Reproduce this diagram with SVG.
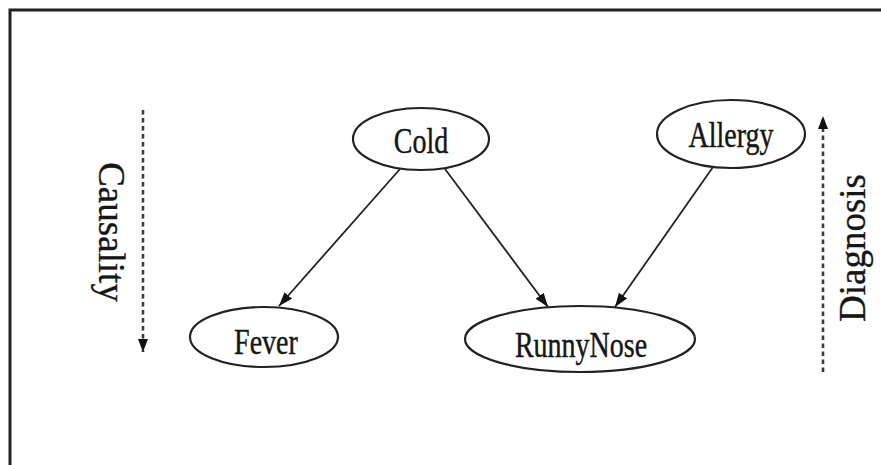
<svg xmlns="http://www.w3.org/2000/svg" width="881" height="465" viewBox="0 0 881 465">
  <defs>
    <style>
      .frame { fill: none; stroke: #222; stroke-width: 3; }
      .node ellipse { fill: #fff; stroke: #222; stroke-width: 2.2; }
      .node text, .label { font-family: "Liberation Serif", "Times New Roman", serif; fill: #161616; stroke: #161616; stroke-width: 0.35; text-anchor: middle; }
      .node text { font-size: 28px; }
      .label { font-size: 37px; }
      .edge { stroke: #222; stroke-width: 1.8; fill: none; }
      .flow { stroke: #3a3a3a; stroke-width: 2.6; stroke-dasharray: 4.5 3.5; fill: none; }
    </style>
    <marker id="arrow" markerUnits="userSpaceOnUse" markerWidth="15" markerHeight="11" refX="14" refY="5.5" orient="auto">
      <path d="M0,0.5 L14,5.5 L0,10.5 z" fill="#111"/>
    </marker>
    <marker id="arrowSmall" markerUnits="userSpaceOnUse" markerWidth="14" markerHeight="11" refX="13" refY="5.5" orient="auto">
      <path d="M0,0.5 L13,5.5 L0,10.5 z" fill="#111"/>
    </marker>
  </defs>

  <rect width="881" height="465" fill="#fff"/>
  <!-- outer frame (open on right and bottom) -->
  <path class="frame" d="M10,465 L10,10 L881,10"/>

  <!-- direction labels -->
  <g id="causality">
    <line class="flow" x1="143" y1="110" x2="143" y2="352" marker-end="url(#arrowSmall)"/>
    <text class="label" transform="translate(99,232) rotate(90)">Causality</text>
  </g>
  <g id="diagnosis">
    <line class="flow" x1="823" y1="372" x2="823" y2="116" marker-end="url(#arrowSmall)"/>
    <text class="label" transform="translate(865,248) rotate(-90)">Diagnosis</text>
  </g>

  <!-- connectors -->
  <g id="edges">
    <line class="edge" x1="400" y1="169" x2="279" y2="306" marker-end="url(#arrow)"/>
    <line class="edge" x1="445" y1="169" x2="548" y2="307" marker-end="url(#arrow)"/>
    <line class="edge" x1="713" y1="167" x2="615" y2="307" marker-end="url(#arrow)"/>
  </g>

  <!-- nodes -->
  <g id="cold" class="node">
    <ellipse cx="421" cy="139" rx="68" ry="31"/>
    <text transform="translate(421,153) scale(1,1.3)">Cold</text>
  </g>
  <g id="allergy" class="node">
    <ellipse cx="731" cy="134" rx="74" ry="34"/>
    <text transform="translate(731,147) scale(1,1.3)">Allergy</text>
  </g>
  <g id="fever" class="node">
    <ellipse cx="264" cy="337" rx="74" ry="30"/>
    <text transform="translate(266,354) scale(1,1.3)">Fever</text>
  </g>
  <g id="runnynose" class="node">
    <ellipse cx="580" cy="339" rx="115" ry="33"/>
    <text transform="translate(581,357) scale(1,1.3)">RunnyNose</text>
  </g>
</svg>
